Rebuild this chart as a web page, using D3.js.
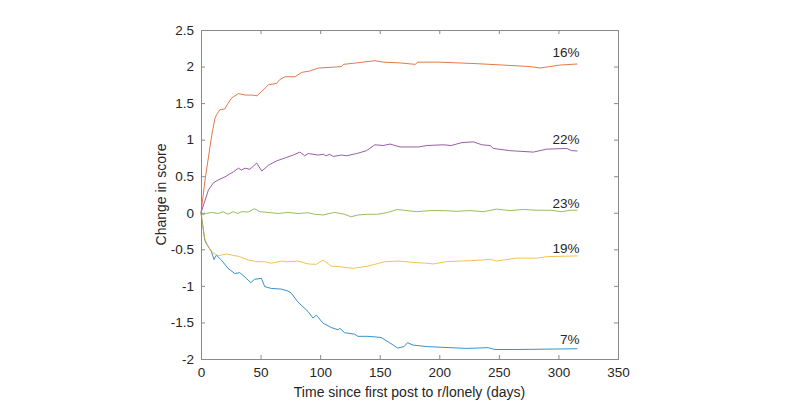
<!DOCTYPE html>
<html>
<head>
<meta charset="utf-8">
<script src="https://cdn.jsdelivr.net/npm/d3@7"></script>
<style>
  html, body { margin: 0; padding: 0; background: #fff; }
  svg { display: block; }
</style>
</head>
<body>
<svg id="chart" width="800" height="404"></svg>
<script>
// ---------- data ----------
const xTicks = [0, 50, 100, 150, 200, 250, 300, 350];
const yTicks = [-2, -1.5, -1, -0.5, 0, 0.5, 1, 1.5, 2, 2.5];
const xLabel = "Time since first post to r/lonely (days)";
const yLabel = "Change in score";

const orangeDays = [0, 3.4, 9, 11.7, 13, 15.9, 20, 22.8, 25.7, 31.4, 37, 42.6, 47, 51, 56.6, 63.5, 66, 70.5, 78.9, 84.5, 91.5, 98.5, 109.7, 118, 119.5, 130.7, 146, 153, 167, 179.7, 182, 200, 231, 254, 276, 284.6, 293, 301, 316];
const orangeValues = [0, 0.45, 1.06, 1.29, 1.34, 1.41, 1.42, 1.50, 1.57, 1.63, 1.61, 1.61, 1.60, 1.66, 1.75, 1.77, 1.82, 1.86, 1.86, 1.92, 1.94, 1.98, 1.99, 2.0, 2.03, 2.05, 2.08, 2.06, 2.05, 2.03, 2.06, 2.06, 2.04, 2.02, 2.0, 1.98, 2.0, 2.02, 2.035];

const purpleDays = [0, 3, 6.2, 10.4, 14.6, 20, 27.2, 31.4, 34, 37, 41, 46.8, 51, 56.6, 63.5, 70.5, 77.5, 83, 87, 90, 98.5, 102.7, 105, 108, 111, 118, 122, 130.7, 139, 146, 153, 158.7, 167, 182.6, 189.5, 203, 210, 219, 228.6, 235.7, 242.7, 245.4, 259, 279, 290, 307, 311, 316];
const purpleValues = [0, 0.15, 0.31, 0.41, 0.45, 0.49, 0.56, 0.61, 0.585, 0.61, 0.595, 0.68, 0.57, 0.65, 0.71, 0.75, 0.79, 0.83, 0.78, 0.81, 0.79, 0.80, 0.78, 0.80, 0.77, 0.79, 0.78, 0.81, 0.85, 0.93, 0.92, 0.94, 0.90, 0.90, 0.92, 0.93, 0.92, 0.96, 0.97, 0.93, 0.92, 0.88, 0.85, 0.83, 0.87, 0.88, 0.85, 0.845];

const greenDays = [0, 1.7, 4, 8.7, 14.3, 18.5, 22.7, 26.9, 31, 33.9, 39.5, 45, 49.3, 56.3, 64.7, 73, 81.4, 89.8, 95.4, 102.4, 112, 120.5, 126, 131.7, 140, 148.4, 156.8, 164.6, 169.9, 181, 192.2, 203.4, 214.6, 225.8, 237, 248, 259, 270.6, 281.8, 293, 302.8, 309.8, 316];
const greenValues = [0, -0.03, -0.01, 0.005, -0.01, 0.015, -0.02, 0.015, -0.01, 0.015, 0.01, 0.055, 0.015, 0.005, -0.01, 0.005, -0.01, 0, -0.02, -0.03, 0.005, -0.02, -0.055, -0.03, -0.02, -0.02, 0.005, 0.045, 0.035, 0.015, 0.03, 0.03, 0.02, 0.03, 0.015, 0.05, 0.03, 0.045, 0.035, 0.035, 0.015, 0.035, 0.035];

const yellowDays = [0, 0.8, 3.1, 5.9, 10, 14.3, 21.3, 32.5, 39.5, 47.9, 53.5, 59, 67.5, 73, 81.4, 89.8, 96.8, 102.4, 109.4, 117.8, 127.6, 140, 154, 165.3, 179, 189.5, 195, 206, 226, 237, 242.7, 248, 265, 282, 290.5, 316];
const yellowValues = [0, -0.1, -0.35, -0.46, -0.546, -0.587, -0.564, -0.60, -0.646, -0.67, -0.67, -0.69, -0.66, -0.67, -0.66, -0.70, -0.705, -0.646, -0.73, -0.74, -0.76, -0.73, -0.67, -0.66, -0.68, -0.69, -0.70, -0.668, -0.655, -0.645, -0.636, -0.66, -0.62, -0.62, -0.60, -0.59];

const blueDays = [0, 3.1, 4.5, 8.7, 10.9, 12.9, 17.1, 22.7, 28.3, 32.5, 36.7, 41.7, 45, 50.7, 53.5, 59, 67.5, 73, 75.8, 81.4, 89.8, 94, 96.8, 102.4, 109.4, 115, 116.5, 120.5, 128.9, 131.7, 140, 151.1, 159.5, 165, 170.5, 173.3, 178, 189.5, 209, 223, 241, 246.6, 265, 316];
const blueValues = [0, -0.37, -0.42, -0.53, -0.64, -0.58, -0.647, -0.76, -0.83, -0.82, -0.875, -0.957, -0.91, -0.897, -1.01, -1.035, -1.044, -1.07, -1.10, -1.22, -1.35, -1.44, -1.40, -1.51, -1.57, -1.60, -1.58, -1.64, -1.66, -1.69, -1.69, -1.705, -1.79, -1.85, -1.83, -1.777, -1.81, -1.83, -1.845, -1.855, -1.845, -1.87, -1.87, -1.86];

const seriesNames = ["blue", "orange", "yellow", "purple", "green"];
const seriesDays = [blueDays, orangeDays, yellowDays, purpleDays, greenDays];
const seriesValues = [blueValues, orangeValues, yellowValues, purpleValues, greenValues];
const seriesColors = ["#0072BD", "#D95319", "#EDB120", "#7E2F8E", "#77AC30"];
const labelTexts = ["7%", "16%", "19%", "22%", "23%"];
const labelValues = [-1.73, 2.19, -0.48, 1.0, 0.134];
const labelDay = 316;

// ---------- layout ----------
(function () {
const svg = d3.select("#chart");
const mLeft = 201, mRight = 618, mTop = 30, mBottom = 359;
const x = d3.scaleLinear().domain([0, 350]).range([mLeft, mRight]);
const y = d3.scaleLinear().domain([-2, 2.5]).range([mBottom, mTop]);
const axisColor = "#8a8a8a";
const textColor = "#262626";
const font = "'Liberation Sans', Arial, Helvetica, sans-serif";
const tickLen = 4;

// lines
const line = d3.line().x(d => x(d[0])).y(d => y(d[1]));
seriesNames.forEach((name, i) => {
  const pts = seriesDays[i].map((d, j) => [d, seriesValues[i][j]]);
  svg.append("path")
    .datum(pts)
    .attr("fill", "none")
    .attr("stroke", seriesColors[i])
    .attr("stroke-width", 1)
    .attr("stroke-opacity", 0.78)
    .attr("stroke-linejoin", "round")
    .attr("d", line);
});

// axes
const gx = svg.append("g").attr("transform", `translate(0,${mBottom})`)
  .call(d3.axisBottom(x).tickValues(xTicks).tickSizeInner(-tickLen).tickSizeOuter(0).tickPadding(8).tickFormat(d3.format("d")));
const gxTop = svg.append("g").attr("transform", `translate(0,${mTop})`)
  .call(d3.axisTop(x).tickValues(xTicks).tickSizeInner(-tickLen).tickSizeOuter(0).tickFormat(""));
const gy = svg.append("g").attr("transform", `translate(${mLeft},0)`)
  .call(d3.axisLeft(y).tickValues(yTicks).tickSizeInner(-tickLen).tickSizeOuter(0).tickPadding(7).tickFormat(d => String(d)));
const gyRight = svg.append("g").attr("transform", `translate(${mRight},0)`)
  .call(d3.axisRight(y).tickValues(yTicks).tickSizeInner(-tickLen).tickSizeOuter(0).tickFormat(""));

[gx, gxTop, gy, gyRight].forEach(g => {
  g.select(".domain").remove();
  g.selectAll(".tick line").attr("stroke", axisColor);
  g.selectAll(".tick text").attr("fill", textColor).attr("font-family", font).attr("font-size", 13.5);
});

// box
svg.append("rect")
  .attr("x", mLeft + 0.5).attr("y", mTop + 0.5)
  .attr("width", mRight - mLeft).attr("height", mBottom - mTop)
  .attr("fill", "none").attr("stroke", axisColor).attr("stroke-width", 1);

// axis labels
svg.append("text")
  .attr("x", (mLeft + mRight) / 2).attr("y", 397)
  .attr("text-anchor", "middle")
  .attr("font-family", font).attr("font-size", 14).attr("fill", textColor)
  .text(xLabel);
svg.append("text")
  .attr("transform", `translate(166,${(mTop + mBottom) / 2}) rotate(-90)`)
  .attr("text-anchor", "middle")
  .attr("font-family", font).attr("font-size", 14).attr("fill", textColor)
  .text(yLabel);

// percent labels
labelTexts.forEach((t, i) => {
  svg.append("text")
    .attr("x", x(labelDay) + 2).attr("y", y(labelValues[i]))
    .attr("dy", "0.35em")
    .attr("text-anchor", "end")
    .attr("font-family", font).attr("font-size", 13.5).attr("fill", textColor)
    .text(t);
});
})();
</script>
</body>
</html>
